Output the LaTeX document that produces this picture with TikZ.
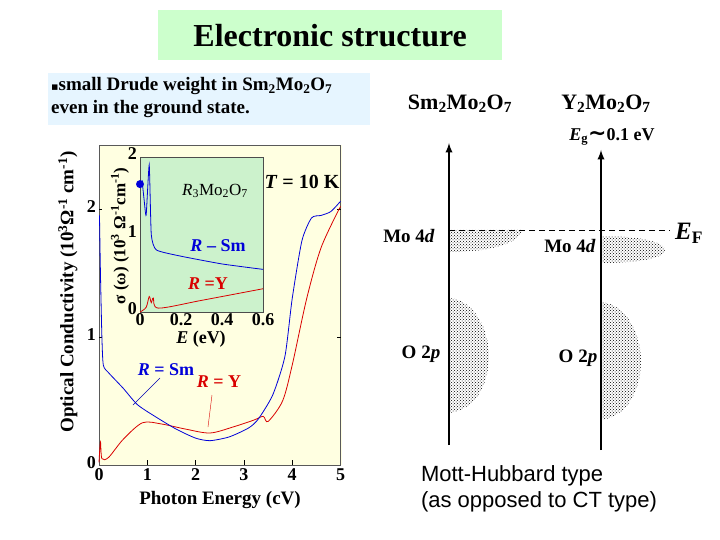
\documentclass[tikz,border=0pt]{standalone}
\usepackage{fontspec}
\setmainfont{Liberation Serif}
\newfontfamily\arialf{Liberation Sans}
\newfontfamily\dejav{DejaVu Sans}
\usetikzlibrary{patterns}
\definecolor{titlegreen}{RGB}{204,255,204}
\definecolor{boxblue}{RGB}{230,245,255}
\definecolor{cream}{RGB}{255,255,225}
\definecolor{insetgreen}{RGB}{204,242,204}
\newcommand{\sbs}[1]{\textsubscript{#1}}
\begin{document}
\begin{tikzpicture}[x=1pt,y=-1pt,
 lbl/.style={font=\bfseries\fontsize{19}{21}\selectfont, inner sep=0pt},
 tick/.style={font=\bfseries\fontsize{18}{20}\selectfont, inner sep=1pt},
 band/.style={pattern=crosshatch dots, pattern color=black, draw=none}]
\useasboundingbox (0,0) rectangle (720,540);
\fill[white] (0,0) rectangle (720,540);
% title
\node[fill=titlegreen, minimum width=344pt, minimum height=50pt, anchor=north west, font=\bfseries\fontsize{32}{34}\selectfont] (title) at (158,10) {Electronic structure};
\node[fill=boxblue, minimum width=322pt, minimum height=52pt, anchor=north west] (bbox) at (48,73) {};
\node[anchor=north west, align=left, font=\bfseries\fontsize{19}{23}\selectfont, inner sep=0pt] (bul) at (51,77) {{\dejav\fontsize{11}{11}\selectfont ▪}small Drude weight in Sm\sbs{2}Mo\sbs{2}O\sbs{7}\\even in the ground state.};
% main plot
\fill[cream] (99,145) rectangle (342,465);
\begin{scope}[shift={(99,465)}, x=48.3pt, y=128pt]
 \draw[gray!70!black] (0,0) rectangle (5,2.5);
 \foreach \i in {1,2,3,4} \draw (\i,0) -- (\i,0.04);
 \foreach \i in {1,2} {\draw (0,\i) -- (0.07,\i); \draw (5,\i) -- (4.93,\i);}
 \foreach \i in {0,1,2,3,4,5} \node[tick,below] (xt\i) at (\i,-0.02) {\i};
 \foreach \i in {0,1,2} \node[tick,left] (yt\i) at (-0.04,\i+0.02) {\i};
 \draw[red!85!black, thick] plot[smooth] coordinates {(0,0.02)(0.03,0.18)(0.06,0.05)(0.2,0.06)(0.5,0.2)(0.9,0.33)(1.3,0.32)(1.8,0.28)(2.3,0.25)(2.8,0.3)(3.2,0.35)(3.4,0.38)(3.5,0.34)(3.8,0.5)(4.0,0.78)(4.3,1.3)(4.6,1.7)(5,2.02)};
 \draw[blue!85!black, thick] plot[smooth,tension=0.4] coordinates {(0.01,1.95)(0.03,1.5)(0.06,1.0)(0.09,0.78)(0.2,0.72)(0.5,0.6)(0.8,0.47)(1.2,0.37)(1.6,0.28)(2.0,0.21)(2.3,0.19)(2.7,0.22)(3.1,0.29)(3.3,0.36)(3.6,0.55)(3.85,0.85)(4.0,1.3)(4.2,1.75)(4.4,1.93)(4.6,1.95)(4.8,1.98)(5,2.06)};
\end{scope}
\node[font=\bfseries\fontsize{19}{21}\selectfont] (xlab) at (220,500) {Photon Energy (cV)};
\node[rotate=90, font=\bfseries\fontsize{19}{21}\selectfont] (ylab) at (68,292) {Optical Conductivity (10\textsuperscript{3}Ω\textsuperscript{-1} cm\textsuperscript{-1})};
% inset
\fill[insetgreen] (140,157) rectangle (263,312);
\begin{scope}[shift={(140,312)}, x=205pt, y=77.5pt]
 \draw[gray!60!black] (0,0) rectangle (0.6,2);
 \foreach \i in {0,0.2,0.4,0.6} \node[tick,below] (it\i) at (\i,0) {\i};
 \foreach \i in {0,1,2} \node[tick,left] (iy\i) at (-0.01,\i+0.04) {\i};
 \draw[red!85!black, thick] plot[smooth] coordinates {(0,0)(0.03,0.06)(0.045,0.2)(0.055,0.12)(0.065,0.18)(0.09,0.05)(0.3,0.15)(0.6,0.3)};
 \draw[blue!85!black, thick] plot[smooth,tension=0.3] coordinates {(0.01,1.7)(0.02,1.45)(0.03,1.25)(0.045,1.9)(0.055,1.0)(0.08,0.8)(0.2,0.72)(0.4,0.62)(0.6,0.55)};
 \fill[blue!85!black] (0,1.65) circle (4pt);
\end{scope}
\node[rotate=90, font=\bfseries\fontsize{17}{19}\selectfont] (iylab) at (120,236) {σ (ω) (10\textsuperscript{3} Ω\textsuperscript{-1}cm\textsuperscript{-1})};
\node[font=\bfseries\fontsize{18}{20}\selectfont] (ixlab) at (201,339) {\textit{E} (eV)};
\node[font=\fontsize{17}{19}\selectfont] (r2) at (215,191) {\textit{R}\sbs{3}Mo\sbs{2}O\sbs{7}};
\node[font=\bfseries\fontsize{20}{22}\selectfont] (tk) at (302,182) {\textit{T} = 10 K};
\node[blue!85!black, font=\bfseries\fontsize{18}{20}\selectfont] (rsm) at (218,246) {\textit{R} -- Sm};
\node[red!85!black, font=\bfseries\fontsize{18}{20}\selectfont] (ry) at (208,284) {\textit{R} =Y};
\node[blue!85!black, font=\bfseries\fontsize{18}{20}\selectfont] (rsm2) at (166,370) {\textit{R} = Sm};
\node[red!85!black, font=\bfseries\fontsize{18}{20}\selectfont] (ry2) at (219,382) {\textit{R} = Y};
\coordinate (l1) at (133,405); \coordinate (l2) at (208,427);
\draw[blue!70!black] (160,378) -- (l1);
\draw[red!85!black] (212,395) -- (l2);
% band diagrams
\coordinate (a1b) at (449,445); \coordinate (a1t) at (449,143);
\coordinate (a2b) at (601,450); \coordinate (a2t) at (601,150);
\fill[band] (449,230) -- (449,252) .. controls (500,252) and (520,240) .. (522,230) -- cycle;
\fill[band] (601,236) -- (601,263) .. controls (640,263) and (665,258) .. (665,250) .. controls (665,242) and (640,236) .. (601,236) -- cycle;
\fill[band] (449,298) .. controls (475,300) and (489,330) .. (489,356) .. controls (489,385) and (475,410) .. (449,413) -- cycle;
\fill[band] (601,302) .. controls (627,304) and (641,335) .. (641,361) .. controls (641,390) and (627,417) .. (601,420) -- cycle;
\draw[line width=2.2pt, -latex] (a1b) -- (a1t);
\draw[line width=2.2pt, -latex] (a2b) -- (a2t);
\coordinate (ef1) at (449,230); \coordinate (ef2) at (670,230);
\draw[thick, dash pattern=on 6pt off 4pt] (ef1) -- (ef2);
\node[font=\bfseries\fontsize{25}{27}\selectfont] (ef) at (689,233) {\textit{E}\sbs{F}};
\node[lbl] (m1) at (409,236) {Mo 4\textit{d}};
\node[lbl] (m2) at (570,246) {Mo 4\textit{d}};
\node[lbl] (o1) at (421,354) {O 2\textit{p}};
\node[lbl] (o2) at (578,358) {O 2\textit{p}};
\node[font=\bfseries\fontsize{22}{24}\selectfont] (s1) at (460,104) {Sm\sbs{2}Mo\sbs{2}O\sbs{7}};
\node[font=\bfseries\fontsize{22}{24}\selectfont] (s2) at (606,104) {Y\sbs{2}Mo\sbs{2}O\sbs{7}};
\node[font=\bfseries\fontsize{18}{20}\selectfont] (eg) at (612,137) {\textit{E}\sbs{g}{\dejav\fontsize{22}{22}\selectfont\textasciitilde}0.1 eV};
\node[font=\arialf\fontsize{22}{26}\selectfont, align=left] (mh) at (539,489) {Mott-Hubbard type\\(as opposed to CT type)};
\end{tikzpicture}
\end{document}
